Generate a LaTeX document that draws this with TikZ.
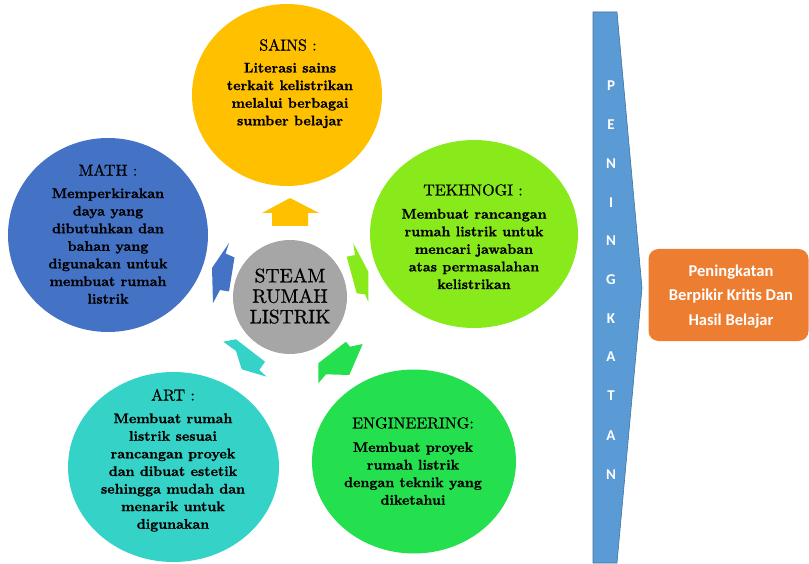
\documentclass[tikz,border=0pt]{standalone}
\usepackage{fontspec}
\newfontfamily\calib{Carlito}
\newfontfamily\medf{lmroman10-regular.otf}[FakeBold=0.7]
\newfontfamily\heavyf{lmroman10-bold.otf}[FakeBold=1.1]
\usetikzlibrary{shapes.geometric}
\definecolor{sainsC}{HTML}{FFC000}
\definecolor{mathC}{HTML}{4472C4}
\definecolor{tekC}{HTML}{88EA1A}
\definecolor{engC}{HTML}{24E04F}
\definecolor{artC}{HTML}{35D3C7}
\definecolor{grayC}{HTML}{A6A6A6}
\definecolor{chevC}{HTML}{5B9BD5}
\definecolor{chevD}{HTML}{41719C}
\definecolor{orangeC}{HTML}{ED7D31}
\begin{document}
\begin{tikzpicture}[x=1pt,y=-1pt,
  blob/.style={ellipse, fill=#1, draw=none, inner sep=0pt},
  ttl/.style={font=\medf\fontsize{16}{18}\selectfont, text=black, inner sep=0pt},
  bdy/.style={font=\heavyf\fontsize{14}{17.6}\selectfont, align=center, inner sep=0pt, text=black},
  lett/.style={font=\calib\bfseries\fontsize{15}{18}\selectfont, text=white, inner sep=0pt},
  restxt/.style={font=\calib\bfseries\fontsize{16.5}{24.4}\selectfont, text=white, align=center}]
\useasboundingbox (0,0) rectangle (809,564);

% arrows from the centre
\fill[sainsC] (290,198) -- (319,213) -- (308,213) -- (308,226) -- (272,226) -- (272,213) -- (262,213) -- cycle;
\fill[mathC] (229,243) -- (225.5,253.5) -- (234.5,257.5) -- (229,291.5) -- (220,290) -- (213,303) -- (212,268) -- cycle;
\fill[tekC] (353.3,243.3) -- (368.3,271.7) -- (368.3,301.7) -- (365,294.3) -- (356.7,293.3) -- (346.7,256.7) -- (355,255) -- cycle;
\fill[artC] (223.3,341.7) -- (236,339.3) -- (265,361.7) -- (259.3,370) -- (266.7,376.7) -- (241.7,369.3) -- (236,351) -- cycle;
\fill[engC] (346,341.7) -- (350,346.7) -- (362.7,344) -- (349.3,375) -- (326,374.3) -- (318.3,383.3) -- (318.3,363.3) -- cycle;

% circles
\node[blob=sainsC, minimum width=190pt, minimum height=182pt] (sains) at (287,95) {};
\node[blob=mathC, minimum width=200pt, minimum height=194pt] (math) at (108,235) {};
\node[blob=tekC, minimum width=208pt, minimum height=188pt] (tek) at (474,234) {};
\node[blob=artC, minimum width=211pt, minimum height=190pt] (art) at (173.5,467) {};
\node[blob=engC, minimum width=204pt, minimum height=184pt] (eng) at (414,461.5) {};
\node[circle, fill=grayC, minimum size=114pt, inner sep=0pt] (steam) at (290,297) {};

% texts
\node[ttl] (sainsT) at (288,45) {SAINS :};
\node[bdy] (sainsB) at (290,95.5) {Literasi sains\\terkait kelistrikan\\melalui berbagai\\sumber belajar};
\node[ttl] (mathT) at (108,170) {MATH :};
\node[bdy] (mathB) at (108,246) {Memperkirakan\\daya yang\\dibutuhkan dan\\bahan yang\\digunakan untuk\\membuat rumah\\listrik};
\node[ttl] (tekT) at (473,190) {TEKHNOGI :};
\node[bdy] (tekB) at (474,249) {Membuat rancangan\\rumah listrik untuk\\mencari jawaban\\atas permasalahan\\kelistrikan};
\node[ttl] (artT) at (173,395) {ART :};
\node[bdy] (artB) at (173,472.5) {Membuat rumah\\listrik sesuai\\rancangan proyek\\dan dibuat estetik\\sehingga mudah dan\\menarik untuk\\digunakan};
\node[ttl] (engT) at (413,423) {ENGINEERING:};
\node[bdy] (engB) at (413,473.5) {Membuat proyek\\rumah listrik\\dengan teknik yang\\diketahui};
\node[font=\medf\fontsize{19.5}{20.5}\selectfont, align=center, inner sep=0pt] (steamT) at (290,296) {STEAM\\RUMAH\\LISTRIK};

% chevron
\draw[fill=chevC, draw=chevD, line width=0.6pt] (593,12) -- (617,12) -- (642,288) -- (617,563) -- (593,563) -- cycle;
\foreach \l/\yy [count=\i] in {P/86, E/125, N/164, I/202.5, N/241, G/280, K/318.5, A/357, T/396, A/435.5, N/475} {
  \node[lett] (L\i) at (611,\yy) {\l};
}

% result box
\node[fill=orangeC, rounded corners=10pt, minimum width=160pt, minimum height=92pt, inner sep=0pt] (res) at (728.5,295) {};
\node[restxt, inner sep=0pt] (resT) at (731,296.5) {Peningkatan\\Berpikir Kritis Dan\\Hasil Belajar};
\end{tikzpicture}
\end{document}
